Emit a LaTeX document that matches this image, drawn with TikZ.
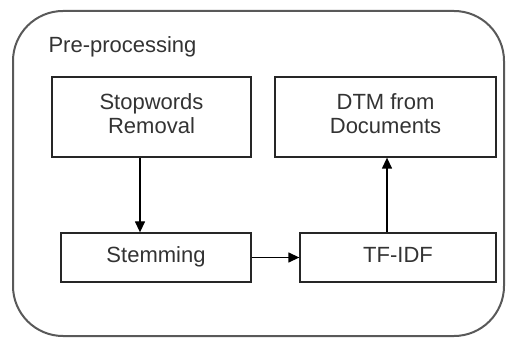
\documentclass[tikz,border=0pt]{standalone}
\usepackage{fontspec}
\setmainfont{Liberation Sans}
\usetikzlibrary{arrows.meta}
\newcommand{\boxtxt}[1]{\raisebox{4pt}{\begin{tabular}{@{}c@{}}#1\end{tabular}}}
\begin{document}
\begin{tikzpicture}[x=1pt,y=-1pt,
  box/.style={draw=black!85,line width=1.3pt,rectangle,inner sep=0pt,
    text=black!80,font=\fontsize{22}{24}\selectfont},
  arr/.style={draw=black,line width=1.3pt,-{Triangle[length=11pt,width=10pt]}}]
\useasboundingbox (0,0) rectangle (506,339);
\draw[draw=black!65,line width=2pt,rounded corners=50pt] (13,11) rectangle (504,336);
\node[anchor=west,text=black!80,font=\fontsize{22}{24}\selectfont] (title) at (45,47) {Pre-processing};
\node[box,minimum width=199pt,minimum height=80pt] (stop) at (151.5,117) {\boxtxt{Stopwords\\Removal}};
\node[box,minimum width=221pt,minimum height=80pt] (dtm) at (385.5,117) {\boxtxt{DTM from\\Documents}};
\node[box,minimum width=190pt,minimum height=49pt] (stem) at (156,257.5) {\boxtxt{Stemming}};
\node[box,minimum width=196pt,minimum height=49pt] (tfidf) at (398,257.5) {\boxtxt{TF-IDF}};
\draw[arr] ([xshift=-11.5pt]stop.south) -- ([xshift=-11.5pt]stop.south |- stem.north);
\draw[arr] (stem.east) -- (stem.east -| tfidf.west);
\draw[arr] ([xshift=-11pt]tfidf.north) -- ([xshift=-11pt]tfidf.north |- dtm.south);
\end{tikzpicture}
\end{document}
